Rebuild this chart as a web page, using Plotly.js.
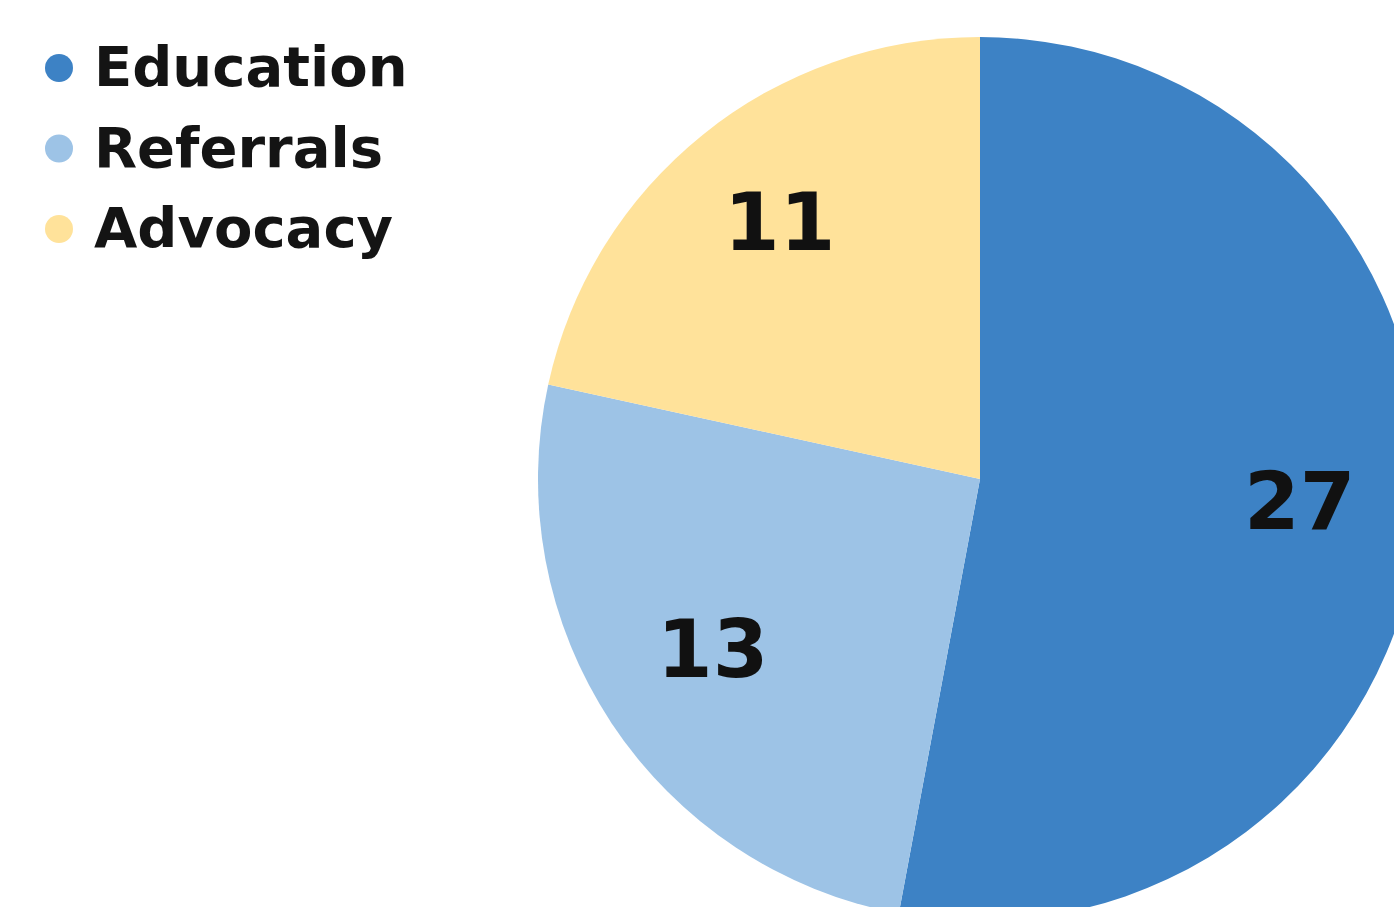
<!DOCTYPE html>
<html>
<head>
<meta charset="utf-8">
<script src="https://cdn.plot.ly/plotly-3.0.1.min.js"></script>
<style>
html,body{margin:0;padding:0;overflow:hidden;background:#fff;}
#chart{width:1460px;height:1000px;}
</style>
</head>
<body>
<div id="chart"></div>
<script>
var categories = ["Education", "Referrals", "Advocacy"];
var values = [27, 13, 11];
var colors = ["#3D82C5", "#9DC3E6", "#FFE29A"];

var W = 1460, H = 1000;
var CX = 980, CY = 479, R = 442;
var FONT = "'DejaVu Sans', Verdana, sans-serif";

var pie = {
  type: "pie",
  labels: categories,
  values: values,
  sort: false,
  direction: "clockwise",
  rotation: 0,
  marker: {colors: colors, line: {width: 0}},
  textinfo: "none",
  showlegend: false,
  hoverinfo: "label+value",
  domain: {x: [(CX - R) / W, (CX + R) / W], y: [(H - CY - R) / H, (H - CY + R) / H]}
};

var shapes = [];
var annotations = [];
var total = values.reduce(function (a, b) { return a + b; }, 0);
var cum = 0;
categories.forEach(function (c, i) {
  // legend entry
  var yPix = 68 + i * 80.5;
  shapes.push({
    type: "circle", xref: "paper", yref: "paper",
    xsizemode: "pixel", ysizemode: "pixel",
    xanchor: 59 / W, yanchor: 1 - yPix / H,
    x0: -14, x1: 14, y0: -14, y1: 14,
    fillcolor: colors[i], line: {width: 0}
  });
  annotations.push({
    xref: "paper", yref: "paper",
    x: 92 / W, y: 1 - (yPix - 1) / H,
    xanchor: "left", yanchor: "middle",
    text: "<b>" + c + "</b>", showarrow: false,
    font: {family: FONT, size: 56, color: "#141414"}
  });
  // slice value label, placed along the slice's mid-angle
  var mid = (cum + values[i] / 2) / total * 2 * Math.PI;
  cum += values[i];
  var rr = 0.725 * R;
  var px = CX + rr * Math.sin(mid);
  var py = CY - rr * Math.cos(mid);
  annotations.push({
    xref: "paper", yref: "paper",
    x: px / W, y: 1 - py / H,
    xanchor: "center", yanchor: "middle",
    yshift: 7,
    text: "<b>" + values[i] + "</b>", showarrow: false,
    font: {family: FONT, size: 80, color: "#111111"}
  });
});

var layout = {
  width: W, height: H,
  margin: {l: 0, r: 0, t: 0, b: 0},
  paper_bgcolor: "#ffffff",
  showlegend: false,
  shapes: shapes,
  annotations: annotations
};

Plotly.newPlot("chart", [pie], layout, {displayModeBar: false, staticPlot: true});
</script>
</body>
</html>
